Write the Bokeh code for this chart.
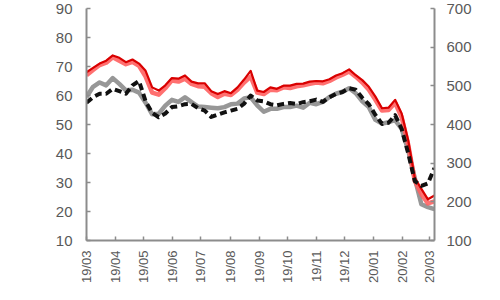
import pandas as pd
from bokeh.plotting import figure
from bokeh.models import LinearAxis, Range1d, FixedTicker, DatetimeTickFormatter, BoxAnnotation
from bokeh.embed import file_html
from bokeh.resources import INLINE

# ---- data (weekly readings) ----
dates = pd.date_range("2019-03-01", periods=54, freq="7D")
red = [68.0, 69.5, 71.0, 72.0, 73.8, 73.0, 71.5, 72.4, 71.0, 68.5,
       62.8, 61.7, 63.5, 66.0, 65.8, 66.9, 64.8, 64.2, 64.2, 61.5,
       60.5, 61.5, 60.8, 62.8, 65.5, 68.5, 61.7, 61.2, 62.8, 62.3,
       63.4, 63.4, 64.0, 64.1, 64.8, 65.0, 64.9, 65.6, 66.9, 67.7,
       69.0, 67.0, 65.3, 63.0, 59.6, 55.6, 55.8, 58.5, 53.8, 44.5,
       31.5, 27.8, 24.2, 25.5]
pink = [67.0, 68.8, 70.5, 71.3, 73.2, 72.0, 70.8, 71.6, 70.2, 66.5,
        61.0, 60.3, 62.5, 65.2, 64.8, 65.8, 64.0, 63.2, 63.0, 60.8,
        59.5, 60.6, 60.2, 62.0, 64.5, 66.5, 61.0, 60.5, 62.0, 61.8,
        62.8, 62.6, 63.2, 63.5, 64.0, 64.5, 64.2, 65.0, 66.2, 67.2,
        68.3, 66.5, 64.5, 62.0, 58.5, 54.8, 55.0, 57.5, 52.5, 43.0,
        30.5, 26.0, 22.8, 23.5]
gray = [59.5, 63.0, 64.5, 63.5, 66.0, 64.0, 61.8, 62.0, 61.0, 57.5,
        53.5, 53.7, 56.5, 58.5, 57.8, 59.4, 57.7, 56.2, 56.0, 55.8,
        55.6, 56.0, 57.0, 57.2, 59.0, 59.4, 56.6, 54.4, 55.4, 55.4,
        56.0, 56.0, 56.5, 55.8, 57.5, 57.0, 57.8, 59.5, 60.6, 61.3,
        62.5, 60.8, 58.0, 56.0, 51.6, 50.3, 50.8, 51.5, 48.5, 41.0,
        31.5, 22.5, 21.5, 20.8]
black = [57.5, 59.4, 60.6, 60.6, 62.3, 61.5, 60.6, 63.5, 65.0, 58.0,
         54.0, 52.5, 53.8, 56.0, 56.3, 57.0, 57.1, 55.6, 54.8, 52.6,
         53.4, 54.2, 54.8, 55.4, 57.2, 60.0, 58.3, 58.0, 57.0, 56.6,
         57.1, 57.4, 57.1, 57.7, 58.0, 58.6, 57.8, 59.4, 60.6, 61.2,
         62.5, 62.0, 59.2, 57.0, 53.3, 50.2, 50.6, 53.2, 48.5, 40.0,
         30.5, 28.8, 29.7, 35.0]
month_ticks = pd.date_range("2019-03-01", "2020-03-01", freq="MS")
left_ticks = [10, 20, 30, 40, 50, 60, 70, 80, 90]
right_ticks = [100, 200, 300, 400, 500, 600, 700]

FONT = "Liberation Sans"
LABEL = "#595959"
AXIS = "#8c8c8c"

p = figure(width=500, height=300, output_backend="svg", toolbar_location=None,
           x_axis_type="datetime",
           x_range=Range1d(pd.Timestamp("2019-03-01"), pd.Timestamp("2020-03-06")),
           y_range=Range1d(10, 90),
           min_border_left=86, min_border_right=66, min_border_top=8, min_border_bottom=60)
p.outline_line_color = None
p.xgrid.visible = False
p.ygrid.visible = False
p.background_fill_color = "white"
p.border_fill_color = "white"

p.extra_y_ranges = {"right": Range1d(100, 700)}
p.add_layout(LinearAxis(y_range_name="right"), "right")

p.line(dates, gray, color="#979797", line_width=4.5, line_join="round")
p.line(dates, pink, color="#ff6161", line_width=4.5, line_join="round", alpha=0.9)
p.line(dates, red, color="#d90000", line_width=2.2, line_join="round")
p.line(dates, black, color="#111111", line_width=4, line_dash="7 4", line_join="round")

for ax in p.axis:
    ax.axis_line_color = AXIS
    ax.axis_line_width = 2
    ax.major_tick_line_color = AXIS
    ax.major_tick_line_width = 1.5
    ax.major_tick_in = 4
    ax.major_tick_out = 0
    ax.minor_tick_line_color = None
    ax.major_label_text_font = FONT
    ax.major_label_text_color = LABEL

p.xaxis.ticker = FixedTicker(ticks=[int(t.timestamp() * 1000) for t in month_ticks])
p.xaxis.formatter = DatetimeTickFormatter(days="%y/%m", months="%y/%m", years="%y/%m")
p.xaxis.major_label_orientation = 3.14159265 / 2
p.xaxis.major_label_text_font_size = "13px"
p.xaxis.major_label_standoff = 10

p.yaxis[0].ticker = FixedTicker(ticks=left_ticks)
p.yaxis[1].ticker = FixedTicker(ticks=right_ticks)
for ax in p.yaxis:
    ax.major_label_text_font_size = "15px"
p.yaxis[0].major_label_standoff = 14
p.yaxis[1].major_label_standoff = 12

# dotted watermark band at the bottom (frame-relative screen units, y up from frame bottom)
for l, r, t, b in [(-90, 420, -47, -62), (250, 420, -32, -62)]:
    p.add_layout(BoxAnnotation(left=l, right=r, top=t, bottom=b,
                               left_units="screen", right_units="screen",
                               top_units="screen", bottom_units="screen",
                               fill_color="#dcdcdc", fill_alpha=1, line_color=None,
                               hatch_pattern="dot", hatch_color="#6e6e6e",
                               hatch_scale=6, hatch_weight=1))

open("out.html", "w").write(file_html(p, INLINE))
